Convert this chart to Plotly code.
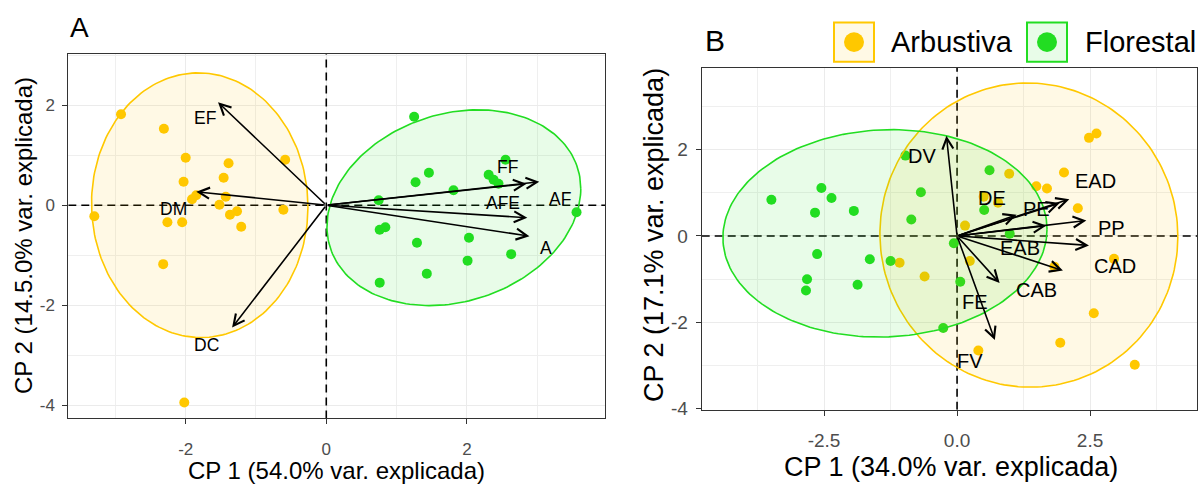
import numpy as np
import plotly.graph_objects as go

W, H = 1200, 485
FONT = "Liberation Sans, Arial, sans-serif"
YEL = "#FFC800"
GRN = "#22DD22"
YEL_FILL = "rgba(255,200,0,0.10)"
GRN_FILL = "rgba(34,221,34,0.10)"

# ---------------- Panel A data ----------------
a_arb_x = [-2.92, -2.31, -2.00, -1.39, -0.585, -2.03, -1.46, -1.85, -1.91, -1.43,
           -1.52, -1.37, -1.27, -1.21, -0.61, -3.30, -2.26, -2.05, -2.32, -2.02]
a_arb_y = [1.82, 1.53, 0.95, 0.84, 0.91, 0.47, 0.55, 0.20, 0.12, 0.17,
           0.01, -0.19, -0.12, -0.43, -0.09, -0.22, -0.34, -0.34, -1.18, -3.95]
a_flo_x = [1.25, 2.55, 1.46, 1.27, 2.31, 2.38, 2.45, 1.81, 0.745, 3.56,
           0.84, 0.76, 1.29, 2.03, 2.63, 2.01, 1.43, 0.76]
a_flo_y = [1.77, 0.91, 0.65, 0.46, 0.61, 0.51, 0.43, 0.30, 0.10, -0.14,
           -0.44, -0.49, -0.75, -0.65, -0.98, -1.11, -1.37, -1.55]
a_var_names = ["EF", "DM", "DC", "FF", "AF", "AFE", "A"]
a_var_x = [-1.54, -1.85, -1.34, 3.03, 2.85, 2.86, 2.89]
a_var_y = [2.06, 0.27, -2.45, 0.47, 0.43, -0.25, -0.62]
a_lab_x = [-1.73, -2.18, -1.70, 2.58, 3.32, 2.51, 3.12]
a_lab_y = [1.75, -0.08, -2.79, 0.77, 0.13, 0.05, -0.85]
# ellipse: centre and covariance (xx, yy, xy)
a_ell_arb = (-1.80, 0.00, 2.37, 7.02, -0.05)
a_ell_flo = (1.815, -0.05, 3.26, 3.84, 0.68)
a_xrange = (-3.67, 3.965)
a_yrange = (-4.27, 3.03)

# ---------------- Panel B data ----------------
b_arb_x = [-1.08, -0.61, 0.98, 1.49, 1.69, 2.01, 2.48, 2.62, 2.27, 0.50,
           0.77, 0.15, 0.24, 2.95, 1.83, 2.57, 1.94, 0.40, 3.34]
b_arb_y = [-0.62, -0.94, 1.44, 1.15, 1.10, 1.47, 2.27, 2.37, 0.64, 0.91,
           0.77, 0.24, -0.58, -0.53, -0.71, -1.79, -2.47, -2.65, -2.98]
b_flo_x = [-3.49, -2.55, -2.36, -2.67, -1.94, -0.97, -0.68, -0.86, -2.63, -1.64,
           -1.25, -2.82, -2.84, -1.87, -0.06, 0.06, -0.26, 0.61, 0.51, 0.99]
b_flo_y = [0.84, 1.11, 0.88, 0.54, 0.58, 1.86, 1.01, 0.38, -0.42, -0.54,
           -0.58, -1.00, -1.26, -1.13, -0.17, -1.06, -2.13, 1.52, 0.60, 0.05]
b_var_names = ["DV", "DE", "PE", "EAD", "PP", "EAB", "CAD", "CAB", "FE", "FV"]
b_var_x = [-0.20, 1.12, 1.93, 2.11, 2.43, 1.68, 2.48, 1.99, 0.80, 0.71]
b_var_y = [2.32, 0.49, 0.76, 0.85, 0.36, 0.24, -0.22, -0.80, -1.09, -2.41]
b_lab_x = [-0.65, 0.65, 1.50, 2.61, 2.91, 1.18, 2.96, 1.49, 0.33, 0.24]
b_lab_y = [1.86, 0.89, 0.63, 1.27, 0.19, -0.27, -0.70, -1.26, -1.53, -2.89]
b_ell_arb = (1.35, 0.02, 7.84, 12.39, -0.10)
b_ell_flo = (-1.355, 0.06, 9.28, 5.76, 0.30)
b_xrange = (-4.80, 4.51)
b_yrange = (-4.02, 3.89)

groups = ["Arbustiva", "Florestal"]


def ellipse(params, n=200):
    cx, cy, sxx, syy, sxy = params
    L = np.linalg.cholesky(np.array([[sxx, sxy], [sxy, syy]]))
    t = np.linspace(0, 2 * np.pi, n)
    pts = L @ np.vstack([np.cos(t), np.sin(t)])
    return cx + pts[0], cy + pts[1]


fig = go.Figure()
DASH = "8px,5px"


def add_panel(xa, ya, xrng, yrng, arb_x, arb_y, flo_x, flo_y, ell_arb, ell_flo):
    # dashed reference lines at zero
    fig.add_trace(go.Scatter(x=[xrng[0], xrng[1], None, 0, 0], y=[0, 0, None, yrng[0], yrng[1]],
                             mode="lines", xaxis=xa, yaxis=ya,
                             line=dict(color="black", width=1.6, dash=DASH),
                             showlegend=False, hoverinfo="skip"))
    for xs, ys, col in [(arb_x, arb_y, YEL), (flo_x, flo_y, GRN)]:
        fig.add_trace(go.Scatter(x=xs, y=ys, mode="markers", xaxis=xa, yaxis=ya,
                                 marker=dict(size=10, color=col, line=dict(width=0)),
                                 showlegend=False, hoverinfo="skip"))
    for params, col, fc in [(ell_arb, YEL, YEL_FILL), (ell_flo, GRN, GRN_FILL)]:
        ex, ey = ellipse(params)
        fig.add_trace(go.Scatter(x=ex, y=ey, mode="lines", xaxis=xa, yaxis=ya,
                                 fill="toself", fillcolor=fc,
                                 line=dict(color=col, width=1.6),
                                 showlegend=False, hoverinfo="skip"))


add_panel("x", "y", a_xrange, a_yrange, a_arb_x, a_arb_y, a_flo_x, a_flo_y, a_ell_arb, a_ell_flo)
add_panel("x2", "y2", b_xrange, b_yrange, b_arb_x, b_arb_y, b_flo_x, b_flo_y, b_ell_arb, b_ell_flo)

annotations = []
shapes = []


def add_vars(xr, yr, vx, vy, names, lx, ly, fs):
    for x, y in zip(vx, vy):
        annotations.append(dict(x=x, y=y, ax=0, ay=0, xref=xr, yref=yr, axref=xr, ayref=yr,
                                text="", showarrow=True, arrowhead=5, arrowsize=1.35,
                                arrowwidth=1.6, arrowcolor="black", standoff=0, startstandoff=0))
    for x, y, t in zip(lx, ly, names):
        annotations.append(dict(x=x, y=y, xref=xr, yref=yr, text=t, showarrow=False,
                                font=dict(family=FONT, size=fs, color="black")))


add_vars("x", "y", a_var_x, a_var_y, a_var_names, a_lab_x, a_lab_y, 17.5)
add_vars("x2", "y2", b_var_x, b_var_y, b_var_names, b_lab_x, b_lab_y, 20)


def px_x(p):
    return p / W


def px_y(p):
    return 1 - p / H


# axis titles and panel letters
def txt(x, y, s, size, angle=0, xanchor="center", color="black"):
    annotations.append(dict(x=px_x(x), y=px_y(y), xref="paper", yref="paper", text=s,
                            showarrow=False, textangle=angle, xanchor=xanchor, yanchor="middle",
                            font=dict(family=FONT, size=size, color=color)))


txt(336, 480, "CP 1 (54.0% var. explicada)", 24)
txt(23, 241, "CP 2 (14.5.0% var. explicada)", 24, angle=-90)
txt(951, 477, "CP 1 (34.0% var. explicada)", 27)
txt(654, 240, "CP 2 (17.1% var. explicada)", 27, angle=-90)
txt(68, 28, "A", 28, xanchor="left")
txt(703, 41, "B", 30, xanchor="left")

# legend
legend_items = [(groups[0], YEL, YEL_FILL, 834, 889), (groups[1], GRN, GRN_FILL, 1027, 1083)]
for name, col, fc, bx, tx in legend_items:
    shapes.append(dict(type="rect", xref="paper", yref="paper", x0=px_x(bx), x1=px_x(bx + 40),
                       y0=px_y(63), y1=px_y(23), line=dict(color=col, width=2), fillcolor=fc,
                       layer="above"))
    shapes.append(dict(type="circle", xref="paper", yref="paper", x0=px_x(bx + 10), x1=px_x(bx + 30),
                       y0=px_y(53), y1=px_y(33), line=dict(color=col, width=0), fillcolor=col,
                       layer="above"))
    txt(tx, 43, name, 29, xanchor="left")


def axis(domain, rng, tv, tt, minor_tv, anchor, fs, standoff):
    return dict(domain=domain, range=list(rng), tickmode="array", tickvals=tv, ticktext=tt,
                showgrid=True, gridcolor="#EBEBEB", gridwidth=1.2,
                minor=dict(tickmode="array", tickvals=minor_tv, showgrid=True,
                           gridcolor="#EFEFEF", gridwidth=0.6, ticks=""),
                showline=True, linecolor="#333333", linewidth=1, mirror=True,
                ticks="outside", ticklen=5, tickwidth=1, tickcolor="#333333",
                tickfont=dict(family=FONT, size=fs, color="#4D4D4D"),
                ticklabelstandoff=standoff, zeroline=False, anchor=anchor)


fig.update_layout(
    width=W, height=H, autosize=False,
    margin=dict(l=0, r=0, t=0, b=0),
    paper_bgcolor="white", plot_bgcolor="white",
    showlegend=False,
    xaxis=axis([68.3 / W, 605 / W], a_xrange, [-2, 0, 2], ["-2", "0", "2"],
               [-3, -1, 1, 3], "y", 17, 10),
    yaxis=axis([1 - 427.3 / H, 1 - 55 / H], a_yrange, [-4, -2, 0, 2], ["-4", "-2", "0", "2"],
               [-3, -1, 1, 3], "x", 17, 4),
    xaxis2=axis([701.7 / W, 1197 / W], b_xrange, [-2.5, 0, 2.5], ["-2.5", "0.0", "2.5"],
                [-3.75, -1.25, 1.25, 3.75], "y2", 19, 9),
    yaxis2=axis([1 - 418.3 / H, 1 - 69.3 / H], b_yrange, [-4, -2, 0, 2], ["-4", "-2", "0", "2"],
                [-3, -1, 1, 3], "x2", 19, 4),
    annotations=annotations,
    shapes=shapes,
)

fig.write_html("out.html", config={"displayModeBar": False},
               post_script="document.body.style.margin='0';document.body.style.padding='0';")
